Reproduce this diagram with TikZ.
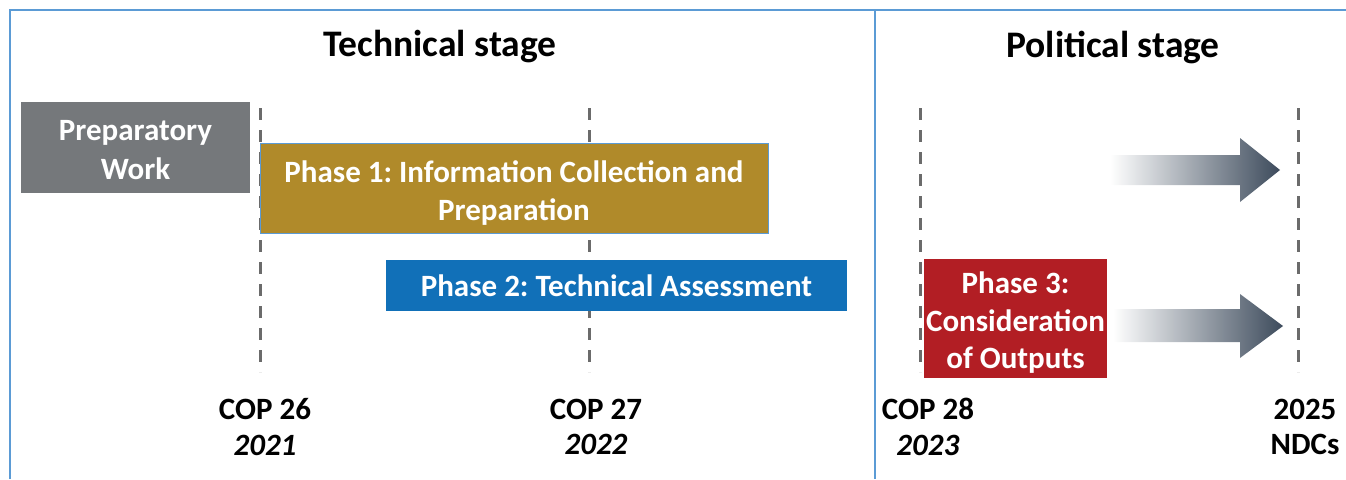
\documentclass[tikz,border=0pt]{standalone}
\usepackage{fontspec}
\setmainfont{Carlito}
\usetikzlibrary{calc}
\definecolor{frameblue}{HTML}{5B9BD5}
\definecolor{prepgray}{HTML}{75787B}
\definecolor{goldc}{HTML}{B08A2A}
\definecolor{phaseblue}{HTML}{1170B8}
\definecolor{phasered}{HTML}{B21E24}
\definecolor{dashgray}{HTML}{6B6B6B}
\definecolor{arrowdark}{HTML}{3D4B5C}
\tikzset{
  box/.style={inner sep=0pt, align=center, text=white, font=\fontsize{31}{38.5}\selectfont\bfseries\frenchspacing},
  title/.style={font=\fontsize{37.5}{40}\selectfont\bfseries},
  lab/.style={font=\fontsize{31}{35.5}\selectfont\bfseries, align=center},
  cop/.style={dashgray, line width=3pt, dash pattern=on 12pt off 10pt},
  frameline/.style={frameblue, line width=2pt},
}
\begin{document}
\begin{tikzpicture}[x=1pt,y=-1pt]
\useasboundingbox (0,0) rectangle (1346,479);
% frame
\draw[frameline] (10,479) -- (10,10) -- (1346,10);
\draw[frameline] (875,10) -- (875,479);
% titles
\node[title] (t1) at (440,47) {Technical stage};
\node[title] (t2) at (1113,47) {Political stage};
% dashed timeline markers
\coordinate (d1t) at (260,108); \coordinate (d1b) at (260,372);
\coordinate (d2t) at (589,108); \coordinate (d2b) at (589,372);
\coordinate (d3t) at (920,108); \coordinate (d3b) at (920,372);
\coordinate (d4t) at (1298,108); \coordinate (d4b) at (1298,372);
\draw[cop] (d1t) -- (d1b);
\draw[cop] (d2t) -- (d2b);
\draw[cop] (d3t) -- (d3b);
\draw[cop] (d4t) -- (d4b);
% boxes
\fill[prepgray] (21,102) rectangle (250,193);
\node[box] (prep) at (135.5,150) {Preparatory\\Work};
\filldraw[fill=goldc, draw=frameblue, line width=0.8pt] (260,143) rectangle (768,233);
\node[box] (p1) at (514,193) {Phase 1: Information Collection and\\Preparation};
\fill[phaseblue] (386,260) rectangle (847,311);
\node[box] (p2) at (616.5,286) {Phase 2: Technical Assessment};
\fill[phasered] (924,259) rectangle (1107,378);
\node[box, font=\fontsize{31}{37.5}\selectfont\bfseries] (p3) at (1015.5,323) {Phase 3:\\Consideration\\of Outputs};
% gradient arrows
\shade[left color=white, right color=arrowdark]
  (1110,155) -- (1240,155) -- (1240,138) -- (1280,170) -- (1240,202) -- (1240,185) -- (1110,185) -- cycle;
\shade[left color=white, right color=arrowdark]
  (1113,309) -- (1240,309) -- (1240,294) -- (1283,326) -- (1240,358) -- (1240,342) -- (1113,342) -- cycle;
% labels
\node[lab] (c26) at (265,427) {COP 26\\\textit{2021}};
\node[lab] (c27) at (596,427) {COP 27\\\textit{2022}};
\node[lab] (c28) at (928,427) {COP 28\\\textit{2023}};
\node[lab] (ndc) at (1305,427) {2025\\NDCs};
\end{tikzpicture}
\end{document}
